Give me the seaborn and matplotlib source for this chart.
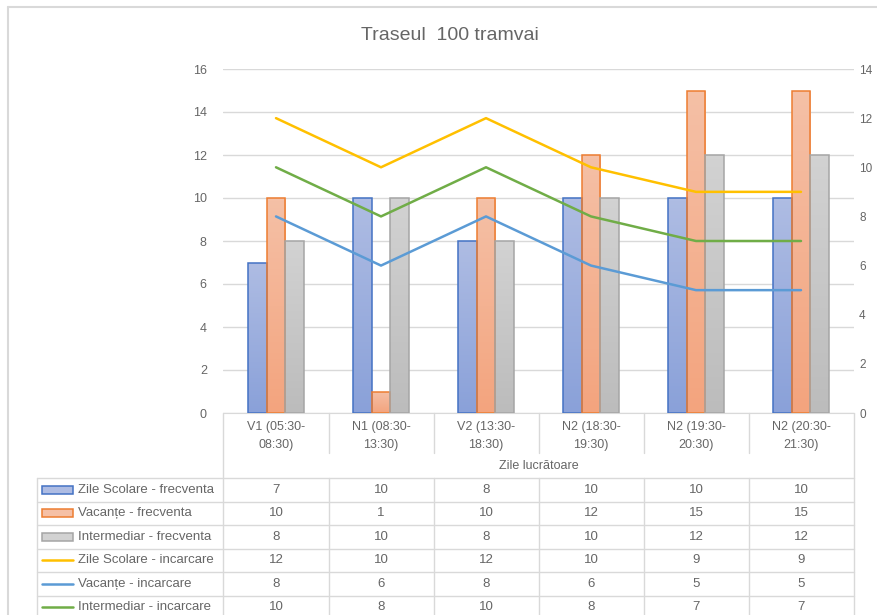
import numpy as np
import pandas as pd
import matplotlib
matplotlib.use("Agg")
import matplotlib.pyplot as plt
import seaborn as sns
from matplotlib.colors import to_rgb, LinearSegmentedColormap
from matplotlib.lines import Line2D
from matplotlib.patches import Rectangle

# data
categories = ["V1 (05:30-\n08:30)", "N1 (08:30-\n13:30)", "V2 (13:30-\n18:30)",
              "N2 (18:30-\n19:30)", "N2 (19:30-\n20:30)", "N2 (20:30-\n21:30)"]
bar_series = ["Zile Scolare - frecventa", "Vacanțe - frecventa", "Intermediar - frecventa"]
zile_frecventa = [7, 10, 8, 10, 10, 10]
vacante_frecventa = [10, 1, 10, 12, 15, 15]
intermediar_frecventa = [8, 10, 8, 10, 12, 12]
line_series = ["Zile Scolare - incarcare", "Vacanțe - incarcare", "Intermediar - incarcare"]
zile_incarcare = [12, 10, 12, 10, 9, 9]
vacante_incarcare = [8, 6, 8, 6, 5, 5]
intermediar_incarcare = [10, 8, 10, 8, 7, 7]
title = "Traseul  100 tramvai"
axis_title = "Zile lucrătoare"

bar_values = [zile_frecventa, vacante_frecventa, intermediar_frecventa]
line_values = [zile_incarcare, vacante_incarcare, intermediar_incarcare]

bar_top = ["#aebce3", "#f5c0a6", "#d2d2d2"]
bar_bottom = ["#8aa1d9", "#f3a47e", "#bcbcbc"]
bar_edge = ["#4472c4", "#ed7d31", "#a5a5a5"]
line_colors = ["#ffc000", "#5b9bd5", "#70ad47"]
text_gray = "#666666"
grid_gray = "#d9d9d9"

sns.set_style("white")
plt.rcParams["font.family"] = ["Liberation Sans", "DejaVu Sans"]

W, H = 877, 615
fig = plt.figure(figsize=(W / 100, H / 100), dpi=100)


def fx(px):
    return px / W


def fy(py):
    return 1 - py / H


# plot area
left, right, top, bottom = 223.5, 853.5, 69, 413
ax = fig.add_axes([fx(left), fy(bottom), fx(right) - fx(left), fy(top) - fy(bottom)])

bars_df = pd.DataFrame({
    "cat": list(range(len(categories))) * 3,
    "series": np.repeat(bar_series, len(categories)),
    "value": np.concatenate(bar_values),
})
sns.barplot(data=bars_df, x="cat", y="value", hue="series", hue_order=bar_series,
            palette=bar_top, width=0.535, gap=0, legend=False, ax=ax, zorder=2)

# gradient fill + outline on bars
for i, cont in enumerate(ax.containers):
    cmap = LinearSegmentedColormap.from_list("g", [to_rgb(bar_bottom[i]), to_rgb(bar_top[i])])
    grad = np.linspace(0, 1, 64).reshape(-1, 1)
    for p in cont.patches:
        p.set_edgecolor(bar_edge[i])
        p.set_linewidth(1.1)
        x0, y0 = p.get_x(), p.get_y()
        im = ax.imshow(grad, cmap=cmap, origin="lower", aspect="auto", zorder=2.5,
                       extent=[x0, x0 + p.get_width(), y0, y0 + p.get_height()])
        im.set_clip_path(p)
        p.set_facecolor("none")
        p.set_zorder(3)

ax.set_ylim(0, 16)
ax.set_xlim(-0.5, len(categories) - 0.5)
ax.set_yticks(range(0, 17, 2))
ax.yaxis.grid(True, color=grid_gray, linewidth=1)
ax.set_axisbelow(True)
for s in ["top", "right", "left"]:
    ax.spines[s].set_visible(False)
ax.spines["bottom"].set_color(grid_gray)
ax.set_xticks(range(len(categories)))
ax.set_xticklabels(categories, color=text_gray, fontsize=9, linespacing=1.6)
ax.tick_params(axis="x", length=0, pad=6)
ax.tick_params(axis="y", length=0, pad=12, labelcolor=text_gray, labelsize=9)
ax.set_xlabel("")
ax.set_ylabel("")

# secondary axis with lines
ax2 = ax.twinx()
lines_df = pd.DataFrame({
    "cat": list(range(len(categories))) * 3,
    "series": np.repeat(line_series, len(categories)),
    "value": np.concatenate(line_values),
})
sns.lineplot(data=lines_df, x="cat", y="value", hue="series", hue_order=line_series,
             palette=line_colors, linewidth=1.8, legend=False, ax=ax2)
ax2.set_ylim(0, 14)
ax2.set_yticks(range(0, 15, 2))
ax2.set_xlim(-0.5, len(categories) - 0.5)
for s in ["top", "right", "left", "bottom"]:
    ax2.spines[s].set_visible(False)
ax2.tick_params(axis="y", length=0, pad=4, labelcolor=text_gray, labelsize=8.5)
ax2.set_xlabel("")
ax2.set_ylabel("")

# title
fig.text(fx(450), fy(35), title, ha="center", va="center", fontsize=14, color=text_gray)

# chart border
fig.add_artist(Line2D([fx(8), fx(8)], [fy(7), 0], color=grid_gray, linewidth=1.5))
fig.add_artist(Line2D([fx(8), 1], [fy(7), fy(7)], color=grid_gray, linewidth=1.5))


def hline(y, x0, x1):
    fig.add_artist(Line2D([fx(x0), fx(x1)], [fy(y), fy(y)], color=grid_gray, linewidth=1))


def vline(x, y0, y1):
    fig.add_artist(Line2D([fx(x), fx(x)], [fy(y0), fy(y1)], color=grid_gray, linewidth=1))


# category label cells and axis title row
col_w = (right - left) / len(categories)
for k in range(1, len(categories)):
    vline(left + k * col_w, bottom, 453)
vline(left, bottom, H)
vline(right, bottom, H)
fig.text(fx((left + right) / 2), fy(466), axis_title, ha="center", va="center",
         fontsize=9, color=text_gray)

# data table
tab_left, row_top, row_h = 37, 478, 23.5
n_rows = len(bar_series) + len(line_series)
for r in range(n_rows + 1):
    hline(row_top + r * row_h, tab_left, right)
vline(tab_left, row_top, H)
for k in range(1, len(categories)):
    vline(left + k * col_w, row_top, H)

row_names = bar_series + line_series
row_vals = bar_values + line_values
for r, (name, vals) in enumerate(zip(row_names, row_vals)):
    yc = row_top + (r + 0.5) * row_h
    if r < len(bar_series):
        fig.add_artist(Rectangle((fx(42), fy(yc + 4)), fx(73) - fx(42), fy(yc - 4) - fy(yc + 4),
                                 facecolor=bar_top[r], edgecolor=bar_edge[r], linewidth=1.1))
    else:
        c = line_colors[r - len(bar_series)]
        fig.add_artist(Line2D([fx(42), fx(73)], [fy(yc), fy(yc)], color=c, linewidth=1.8))
    fig.text(fx(78), fy(yc), name, ha="left", va="center", fontsize=9.5, color=text_gray)
    for k, v in enumerate(vals):
        fig.text(fx(left + (k + 0.5) * col_w), fy(yc), str(v), ha="center", va="center",
                 fontsize=9.5, color=text_gray)

fig.savefig("out.png", dpi=100)
